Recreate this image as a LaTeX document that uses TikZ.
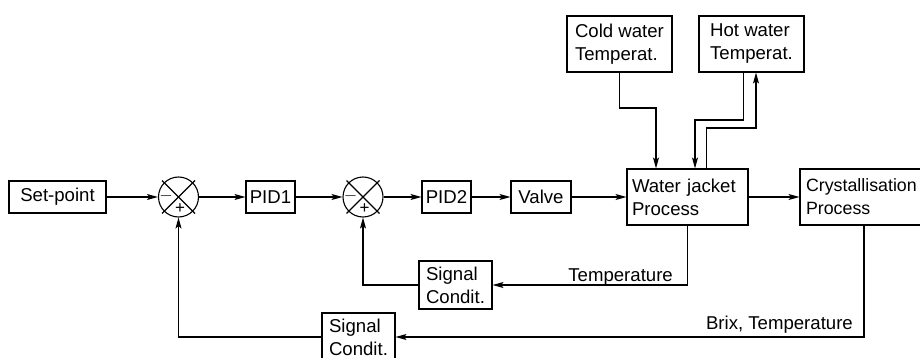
\documentclass[tikz,border=0pt]{standalone}
\usepackage{fontspec}
\setmainfont{Liberation Sans}
\usetikzlibrary{arrows.meta,calc}
\begin{document}
\begin{tikzpicture}[x=1pt,y=-1pt,
  every node/.style={font=\fontsize{18.6}{23}\selectfont},
  blk/.style={draw,line width=1.1pt,rectangle,inner ysep=0pt,minimum height=32pt,align=center},
  blk2/.style={draw,line width=1.1pt,rectangle,inner ysep=0pt,align=left},
  sumj/.style={draw,line width=1.1pt,circle,minimum size=40pt,inner sep=0pt},
  conn/.style={line width=1.1pt},
  arr/.style={conn,-{Stealth[length=11pt,width=6pt,inset=2.5pt]}},
  lbl/.style={inner sep=0pt}]
\useasboundingbox (0,0) rectangle (920,358);
% blocks
\node[blk,minimum width=97pt,inner xsep=0pt] (sp) at (57.5,197) {Set-point};
\node[sumj] (s1) at (178.5,197) {};
\node[blk,minimum width=49pt,inner xsep=0pt] (pid1) at (270.5,197) {PID1};
\node[sumj] (s2) at (363,197) {};
\node[blk,minimum width=49pt,inner xsep=0pt] (pid2) at (446.5,197) {PID2};
\node[blk,minimum width=60pt,inner xsep=0pt] (valve) at (541,197) {Valve};
\node[blk2,minimum height=56pt,inner xsep=5pt,text width=111pt] (wj) at (687.5,197) {Water jacket\\Process};
\node[blk2,minimum height=56pt,inner xsep=6pt,text width=123pt,font=\fontsize{17.8}{23}\selectfont] (cr) at (867.5,197) {Crystallisation\\Process};
\node[blk2,minimum height=56pt,minimum width=105pt,inner xsep=0pt] (cold) at (619.5,44) {Cold water\\Temperat.};
\node[blk2,minimum height=56pt,minimum width=105pt,inner xsep=0pt] (hot) at (751.5,44) {Hot water\\Temperat.};
\node[blk2,minimum height=48pt,minimum width=73pt,inner xsep=0pt] (sc1) at (455.5,285) {Signal\\Condit.};
\node[blk2,minimum height=48pt,minimum width=73pt,inner xsep=0pt] (sc2) at (358.5,337) {Signal\\Condit.};
% summing junction details
\foreach \s in {s1,s2}{
  \draw[conn] ($(\s.center)+(-16.5,-16.5)$) -- ($(\s.center)+(16.5,16.5)$);
  \draw[conn] ($(\s.center)+(16.5,-16.5)$) -- ($(\s.center)+(-16.5,16.5)$);
  \node[font=\fontsize{17}{17}\selectfont,inner sep=0pt] at ($(\s.center)+(-12.5,-1)$) {$-$};
  \node[font=\fontsize{17}{17}\selectfont,inner sep=0pt] at ($(\s.center)+(1.5,11.5)$) {+};
}
% forward path
\draw[arr] (sp.east) -- (s1.west);
\draw[arr] (s1.east) -- (pid1.west);
\draw[arr] (pid1.east) -- (s2.west);
\draw[arr] (s2.east) -- (pid2.west);
\draw[arr] (pid2.east) -- (valve.west);
\draw[arr] (valve.east) -- (wj.west);
\draw[arr] (wj.east) -- (cr.west);
% water temperatures
\coordinate (c1) at (656,108);
\draw[arr] (cold.south) |- (c1) -- (c1 |- wj.north);
\coordinate (h1) at (695,120);
\draw[arr] ($(hot.south west)+(45,0)$) |- (h1) -- (h1 |- wj.north);
\coordinate (h2) at (756,128);
\draw[arr] ($(wj.north west)+(80,0)$) |- (h2) -- (h2 |- hot.south);
% inner feedback
\coordinate (t1) at (wj.south |- sc1.east);
\draw[arr] (wj.south) -- (t1) -- (sc1.east);
\node[lbl,anchor=base east] (tl) at (673,281) {Temperature};
\draw[arr] (sc1.west) -| (s2.south);
% outer feedback
\coordinate (b1) at (864,224);
\draw[arr] (b1) |- (sc2.east);
\node[lbl,anchor=base east] (bl) at (853,329) {Brix, Temperature};
\draw[arr] (sc2.west) -| (s1.south);
\end{tikzpicture}
\end{document}
